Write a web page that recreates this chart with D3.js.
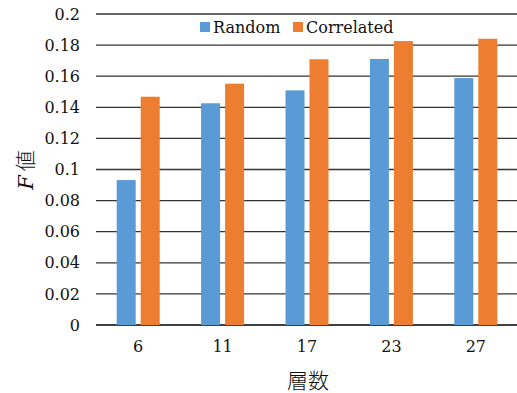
<!DOCTYPE html>
<html><head><meta charset="utf-8">
<script src="https://cdn.jsdelivr.net/npm/d3@7"></script>
<style>body{margin:0;background:#fff}svg{display:block}</style>
</head><body>
<script>
const categories = ["6","11","17","23","27"];
const seriesNames = ["Random","Correlated"];
const randomVals = [0.0932,0.1426,0.1509,0.1711,0.1588];
const correlatedVals = [0.1468,0.1552,0.1709,0.1826,0.1841];
const yTicks = [0,0.02,0.04,0.06,0.08,0.1,0.12,0.14,0.16,0.18,0.2];
const colors = ["#5b9bd5","#ed7d31"];

(function(){
const W=517,H=393;
const svg=d3.select("body").append("svg").attr("width",W).attr("height",H);
const pl=96,pr=518,pt=14,pb=325;
const x=d3.scaleBand().domain(categories).range([pl,pr]);
const y=d3.scaleLinear().domain([0,0.2]).range([pb,pt]);
const font="'DejaVu Serif', serif";

svg.append("g").selectAll("line").data(yTicks).join("line")
  .attr("x1",pl).attr("x2",W).attr("y1",d=>y(d)).attr("y2",d=>y(d))
  .attr("stroke",d=>d===0?"#000":"#333").attr("stroke-width",1.3);

const yAxis=d3.axisLeft(y).tickValues(yTicks).tickSize(0).tickPadding(16).tickFormat(d=>String(+d.toFixed(2)));
const gy=svg.append("g").attr("transform",`translate(${pl},0)`).call(yAxis);
gy.select(".domain").remove();
gy.selectAll("text").attr("font-family",font).attr("font-size",16).attr("fill","#111");

const xAxis=d3.axisBottom(x).tickSize(0).tickPadding(16);
const gx=svg.append("g").attr("transform",`translate(0,${pb})`).call(xAxis);
gx.select(".domain").remove();
gx.selectAll("text").attr("font-family",font).attr("font-size",16).attr("fill","#111");

const data=[randomVals,correlatedVals];
const barW=19,gap=5;
data.forEach((vals,si)=>{
  svg.append("g").selectAll("rect").data(vals).join("rect")
    .attr("x",(d,i)=>x(categories[i])+x.bandwidth()/2-(barW*2+gap)/2+si*(barW+gap))
    .attr("width",barW)
    .attr("y",d=>y(d)).attr("height",d=>pb-y(d))
    .attr("fill",colors[si]);
});

const leg=[200,293];
seriesNames.forEach((n,i)=>{
  svg.append("rect").attr("x",leg[i]).attr("y",22).attr("width",10).attr("height",10).attr("fill",colors[i]);
  svg.append("text").attr("x",leg[i]+13).attr("y",33).attr("font-family",font).attr("font-size",16).attr("fill","#111").text(n);
});

svg.append("text").attr("x",308).attr("y",388).attr("text-anchor","middle")
  .attr("font-family","'Noto Sans CJK JP', sans-serif").attr("font-size",21).attr("font-weight",300).attr("fill","#111").text("層数");
const yt=svg.append("text").attr("transform","translate(33,170) rotate(-90)").attr("text-anchor","middle")
  .attr("font-size",21).attr("fill","#111");
yt.append("tspan").attr("font-family","'DejaVu Serif', serif").attr("font-style","italic").text("F");
yt.append("tspan").attr("font-family","'Noto Sans CJK JP', sans-serif").attr("font-weight",300).attr("dx",4).text("値");
})();
</script>
</body></html>
